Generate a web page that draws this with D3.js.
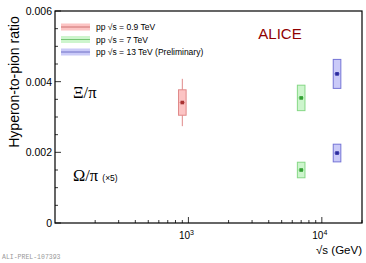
<!DOCTYPE html>
<html>
<head>
<meta charset="utf-8">
<script src="https://cdn.jsdelivr.net/npm/d3@7"></script>
<style>
  body { margin: 0; background: #fff; }
  text { font-family: "Liberation Sans", Arial, sans-serif; }
</style>
</head>
<body>
<div id="chart"></div>
<script>
// energies in GeV and the series
var energies = [900, 7000, 13000];
var seriesNames = ["pp \u221As = 0.9 TeV", "pp \u221As = 7 TeV", "pp \u221As = 13 TeV (Preliminary)"];
var xiValues  = [0.00341, 0.00354, 0.00422];
var xiStat    = [0.00067, 0.00005, 0.00005];
var xiSyst    = [0.00036, 0.00036, 0.00041];
var omegaEnergies = [7000, 13000];
var omegaValues = [0.00150, 0.00198];
var omegaStat   = [0.00004, 0.00004];
var omegaSyst   = [0.00022, 0.00025];
var yTicks = [0, 0.002, 0.004, 0.006];
var xTicks = [1000, 10000];

var W = 366, H = 263;
var margin = {top: 11, right: 4, bottom: 40, left: 55};

var fills   = ["#fcc4c4", "#cdf5cd", "#cacaf8"];
var strokes = ["#e08a8a", "#86d886", "#7474d6"];
var marks   = ["#a83232", "#33a033", "#2a2a9e"];

var svg = d3.select("#chart").append("svg")
    .attr("width", W).attr("height", H);

var x = d3.scaleLog()
    .domain([100, 20000])
    .range([margin.left, W - margin.right]);
var y = d3.scaleLinear()
    .domain([0, 0.006])
    .range([H - margin.bottom, margin.top]);

// frame
svg.append("rect")
    .attr("x", margin.left).attr("y", margin.top)
    .attr("width", W - margin.right - margin.left)
    .attr("height", H - margin.bottom - margin.top)
    .attr("fill", "none").attr("stroke", "#000").attr("stroke-width", 1.2);

// y axis ticks (inside)
var yMinor = d3.range(0, 0.00601, 0.0005);
svg.selectAll(".ymin").data(yMinor).enter().append("line")
    .attr("x1", margin.left).attr("x2", function(d, i) { return margin.left + (i % 4 == 0 ? 6 : 3); })
    .attr("y1", function(d) { return y(d); }).attr("y2", function(d) { return y(d); })
    .attr("stroke", "#000").attr("stroke-width", 0.8);
svg.selectAll(".ylab").data(yTicks).enter().append("text")
    .attr("x", margin.left - 3).attr("y", function(d) { return y(d) + 4; })
    .attr("text-anchor", "end").attr("font-size", 10.5)
    .text(function(d) { return d == 0 ? "0" : d3.format(".3f")(d); });

// x axis ticks (inside, log)
var xMinor = [];
[100, 1000, 10000].forEach(function(dec) {
    for (var k = 1; k <= 9; k++) if (dec * k <= 20000 && dec * k > 100) xMinor.push(dec * k);
});
svg.selectAll(".xmin").data(xMinor).enter().append("line")
    .attr("x1", function(d) { return x(d); }).attr("x2", function(d) { return x(d); })
    .attr("y1", y(0)).attr("y2", function(d) { return xTicks.indexOf(d) >= 0 ? y(0) - 6 : y(0) - 3; })
    .attr("stroke", "#000").attr("stroke-width", 0.8);
var xl = svg.selectAll(".xlab").data(xTicks).enter().append("text")
    .attr("x", function(d) { return x(d) - 2; }).attr("y", y(0) + 16)
    .attr("text-anchor", "middle").attr("font-size", 10);
xl.append("tspan").text("10");
xl.append("tspan").attr("dy", -4).attr("font-size", 7)
    .text(function(d) { return Math.round(Math.log10(d)); });

// axis titles
svg.append("text")
    .attr("transform", "translate(19,82) rotate(-90)")
    .attr("text-anchor", "middle").attr("font-size", 14)
    .text("Hyperon-to-pion ratio");
svg.append("text")
    .attr("x", W - margin.right).attr("y", y(0) + 31)
    .attr("text-anchor", "end").attr("font-size", 11.5)
    .text("\u221As (GeV)");

// point drawing
function drawPoint(e, v, stat, syst, i) {
    var cx = x(e), hw = 3.8;
    var g = svg.append("g");
    g.append("line")
        .attr("x1", cx).attr("x2", cx)
        .attr("y1", y(v - stat)).attr("y2", y(v + stat))
        .attr("stroke", strokes[i]).attr("stroke-width", 1);
    g.append("rect")
        .attr("x", cx - hw).attr("width", 2 * hw)
        .attr("y", y(v + syst)).attr("height", y(v - syst) - y(v + syst))
        .attr("fill", fills[i]).attr("stroke", strokes[i]).attr("stroke-width", 1);
    g.append("line")
        .attr("x1", cx - hw + 1).attr("x2", cx + hw - 1)
        .attr("y1", y(v)).attr("y2", y(v))
        .attr("stroke", strokes[i]).attr("stroke-width", 1);
    g.append("rect")
        .attr("x", cx - 1.8).attr("y", y(v) - 1.8)
        .attr("width", 3.6).attr("height", 3.6)
        .attr("fill", marks[i]);
}
energies.forEach(function(e, i) { drawPoint(e, xiValues[i], xiStat[i], xiSyst[i], i); });
omegaEnergies.forEach(function(e, j) { drawPoint(e, omegaValues[j], omegaStat[j], omegaSyst[j], j + 1); });

// legend
seriesNames.forEach(function(name, i) {
    var ly = 27 + i * 12.5;
    svg.append("rect").attr("x", 61).attr("y", ly - 3.5).attr("width", 29).attr("height", 7)
        .attr("fill", fills[i]);
    svg.append("line").attr("x1", 61).attr("x2", 90).attr("y1", ly).attr("y2", ly)
        .attr("stroke", marks[i]).attr("stroke-width", 0.8).attr("opacity", 0.7);
    svg.append("text").attr("x", 96).attr("y", ly + 3).attr("font-size", 8.5)
        .text(name);
});

// labels
svg.append("text").attr("x", 280).attr("y", 39).attr("text-anchor", "middle")
    .attr("font-size", 15).attr("fill", "#900000").text("ALICE");
svg.append("text").attr("x", 73).attr("y", 98)
    .style("font-family", "'Liberation Serif', serif").attr("font-size", 16.5)
    .text("\u039E/\u03C0");
var om = svg.append("text").attr("x", 73).attr("y", 181)
    .style("font-family", "'Liberation Serif', serif").attr("font-size", 16.5);
om.append("tspan").text("\u03A9/\u03C0 ");
om.append("tspan").attr("font-size", 8.5)
    .style("font-family", "'Liberation Sans', sans-serif").text("(\u00D75)");

svg.append("text").attr("x", 2).attr("y", 259)
    .style("font-family", "'Liberation Mono', monospace").attr("font-size", 6.5)
    .attr("fill", "#999").text("ALI-PREL-107393");
</script>
</body>
</html>
